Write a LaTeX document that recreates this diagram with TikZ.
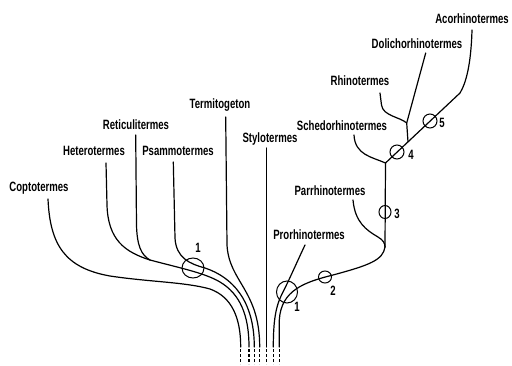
\documentclass[tikz,border=0pt]{standalone}
\usepackage{fontspec}
\setmainfont{Liberation Sans}[FakeStretch=0.71]
\usetikzlibrary{shapes.geometric}

\begin{document}
\begin{tikzpicture}[x=1pt, y=-1pt,
  genus/.style={font=\fontsize{13.5}{13.5}\selectfont\bfseries, inner sep=0pt},
  branch/.style={line width=1.2pt, line cap=round, line join=round},
  stub/.style={line width=1.2pt, dash pattern=on 3pt off 2pt, dash phase=3pt},
  ring/.style={draw, ellipse, line width=1pt, inner sep=0pt}]
\useasboundingbox (0,0) rectangle (512,365);

% genus names
\node[genus] (copto) at (39,188) {Coptotermes};
\node[genus] (hetero) at (94,151) {Heterotermes};
\node[genus] (retic) at (136,125) {Reticulitermes};
\node[genus] (psammo) at (178,151) {Psammotermes};
\node[genus] (termito) at (220,105) {Termitogeton};
\node[genus] (stylo) at (270,139) {Stylotermes};
\node[genus] (prorh) at (309,235) {Prorhinotermes};
\node[genus] (parrh) at (330,191) {Parrhinotermes};
\node[genus] (schedo) at (342,126) {Schedorhinotermes};
\node[genus] (rhino) at (360,81) {Rhinotermes};
\node[genus] (dolich) at (417,44) {Dolichorhinotermes};
\node[genus] (acorh) at (472,19) {Acorhinotermes};

% where the branches leave the names
\coordinate (sCopto) at (48,199);
\coordinate (sHetero) at (106,163);
\coordinate (sRetic) at (135.7,135);
\coordinate (sPsammo) at (173.3,162);
\coordinate (sTermito) at (225.7,117);
\coordinate (sStylo) at (266.5,148);
\coordinate (sProrh) at (305,245);
\coordinate (sParrh) at (353,200);
\coordinate (sSchedo) at (354,135);
\coordinate (sRhino) at (380,93);
\coordinate (sDolich) at (425.7,53);
\coordinate (sAcorh) at (472,30);

% forks
\coordinate (jHR) at (150,260);
\coordinate (jPP) at (385,247);
\coordinate (jSc) at (385.5,163);
\coordinate (jRD) at (406.7,123);
\coordinate (jDA) at (408,141.9);
\coordinate (aBend) at (460,93);

% the cut-off strands at the foot
\foreach \n/\xx in {1/240.7, 2/249, 3/254.3, 4/259.7, 5/266.5, 6/273.3, 7/279.3} {
  \coordinate (e\n) at (\xx,347);
  \coordinate (d\n) at (\xx,364);
  \draw[stub] (e\n) -- (d\n);
}

% left group
\draw[branch] (sCopto) .. controls (50,245) and (65,268) .. (110,276)
  .. controls (150,282) and (185,282) .. (210,289)
  .. controls (232,297) and (240.7,318) .. (e1);
\draw[branch] (sHetero) -- (107,205) .. controls (108,240) and (125,252) .. (jHR);
\draw[branch] (sRetic) -- (136.5,225) .. controls (137,245) and (141,255) .. (jHR);
\draw[branch] (jHR) .. controls (180,268) and (205,273) .. (220,282)
  .. controls (240,294) and (249,315) .. (e2);
\draw[branch] (sPsammo) -- (175,238) .. controls (176,258) and (190,264) .. (205,268)
  .. controls (232,277) and (254.3,300) .. (e3);
\draw[branch] (sTermito) -- (227,245) .. controls (229,282) and (259.7,290) .. (e4);
\draw[branch] (sStylo) -- (e5);

% right group
\draw[branch] (sProrh) .. controls (297,262) and (290,278) .. (284,290)
  .. controls (277,303) and (273.3,315) .. (e6);
\draw[branch] (jPP) .. controls (383,260) and (370,265) .. (333,275)
  .. controls (305,282) and (281,290) .. (279.3,320) -- (e7);
\draw[branch] (sParrh) .. controls (355,222) and (366,230) .. (378,237)
  .. controls (383,240) and (385,243) .. (jPP);
\draw[branch] (jSc) -- (jPP);
\draw[branch] (sSchedo) .. controls (355,155) and (372,157) .. (jSc);
\draw[branch] (sRhino) -- (381.5,105) .. controls (383,116) and (400,117) .. (jRD);
\draw[branch] (sDolich) -- (jRD) -- (jDA);
\draw[branch] (sAcorh) .. controls (471,65) and (466,83) .. (aBend) -- (jSc);

% rings and their numbers
\node[ring, minimum width=22pt, minimum height=20pt] (r1a) at (193,268) {};
\node[ring, minimum width=21pt, minimum height=22pt] (r1b) at (287,292) {};
\node[ring, minimum width=13pt, minimum height=12pt] (r2) at (325,277) {};
\node[ring, minimum width=12pt, minimum height=13pt] (r3) at (385,212) {};
\node[ring, minimum size=14pt] (r4) at (397,152) {};
\node[ring, minimum size=14pt] (r5) at (430,121) {};
\node[genus] (n1a) at (198,248) {1};
\node[genus] (n1b) at (297,307) {1};
\node[genus] (n2) at (333,291) {2};
\node[genus] (n3) at (397,214) {3};
\node[genus] (n4) at (411,155) {4};
\node[genus] (n5) at (442,123) {5};
\end{tikzpicture}
\end{document}
